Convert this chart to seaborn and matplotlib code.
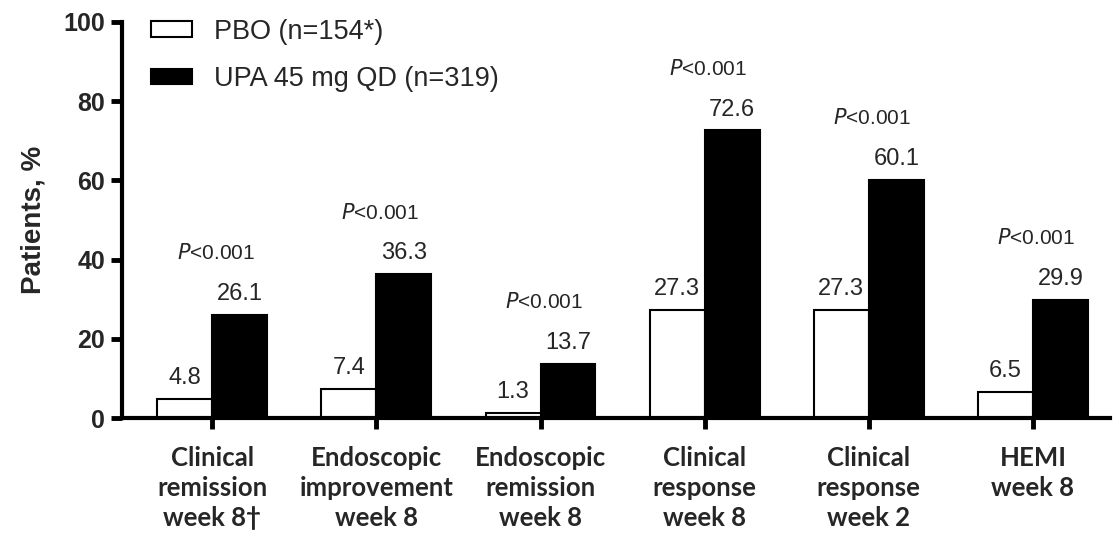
import matplotlib
matplotlib.use("Agg")
import matplotlib.pyplot as plt
import seaborn as sns
import pandas as pd

categories = ["Clinical\nremission\nweek 8\u2020", "Endoscopic\nimprovement\nweek 8",
              "Endoscopic\nremission\nweek 8", "Clinical\nresponse\nweek 8",
              "Clinical\nresponse\nweek 2", "HEMI\nweek 8"]
series_names = ["PBO (n=154*)", "UPA 45 mg QD (n=319)"]
pbo_values = [4.8, 7.4, 1.3, 27.3, 27.3, 6.5]
upa_values = [26.1, 36.3, 13.7, 72.6, 60.1, 29.9]
p_labels = ["<0.001"] * 6
yticks = [0, 20, 40, 60, 80, 100]

sns.set_theme(style="white")
plt.rcParams['font.family'] = ['Liberation Sans', 'DejaVu Sans']

df = pd.DataFrame({
    "cat": categories * 2,
    "val": pbo_values + upa_values,
    "grp": [series_names[0]] * 6 + [series_names[1]] * 6,
})

fig = plt.figure(figsize=(11.19, 5.34), dpi=100)
ax = fig.add_axes([0.109, 0.217, 0.883, 0.742])
sns.barplot(data=df, x="cat", y="val", hue="grp", palette=["white", "black"],
            edgecolor="black", linewidth=1.5, width=0.67, ax=ax, saturation=1,
            errorbar=None)

ax.set_ylim(0, 100)
ax.set_xlim(-0.55, 5.47)
ax.set_yticks(yticks)
ax.set_yticklabels([str(t) for t in yticks], fontsize=18, fontweight="bold")
ax.set_xticks(range(len(categories)))
ax.set_xticklabels(categories, fontsize=18.5, fontweight="bold", family="Lato", linespacing=1.3)
ax.set_xlabel("")
ax.set_ylabel("Patients, %", fontsize=20, fontweight="bold", labelpad=12)

for s in ["top", "right"]:
    ax.spines[s].set_visible(False)
for s in ["left", "bottom"]:
    ax.spines[s].set_linewidth(3)
    ax.spines[s].set_color("black")
ax.tick_params(axis="both", direction="out", length=8, width=3.5, color="black", bottom=True, left=True)
ax.tick_params(axis="x", pad=12)
ax.tick_params(axis="y", pad=4)

# value labels
bw = 0.335
for i in range(len(categories)):
    ax.text(i - bw / 2, pbo_values[i] + 2.5, f"{pbo_values[i]:.1f}", ha="center", va="bottom", fontsize=17)
    ax.text(i + bw / 2, upa_values[i] + 2.5, f"{upa_values[i]:.1f}", ha="center", va="bottom", fontsize=17)
    ax.text(i + 0.02, upa_values[i] + 13, f"$\\mathit{{P}}${p_labels[i]}", ha="center", va="bottom",
            fontsize=15)

handles, labels = ax.get_legend_handles_labels()
ax.legend(handles, labels, loc="upper left", bbox_to_anchor=(0.005, 1.07), frameon=False,
          fontsize=19.5, handlelength=1.5, handleheight=0.5, labelspacing=0.8, handletextpad=0.8)

fig.savefig("out.png", dpi=100)
